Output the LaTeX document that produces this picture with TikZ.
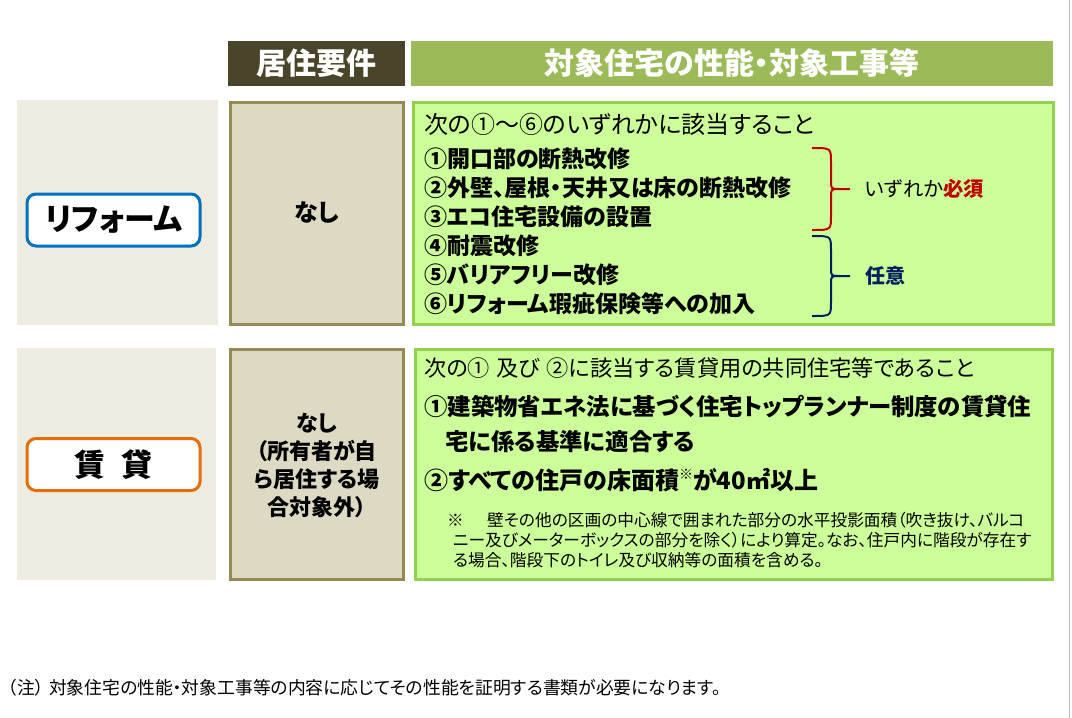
\documentclass[tikz,border=0pt]{standalone}
\usepackage{fontspec}
\setmainfont{Noto Sans CJK JP}[RawFeature=+palt]
\definecolor{hdrdark}{HTML}{4A452A}
\definecolor{hdrgreen}{HTML}{9BBB59}
\definecolor{panelbg}{HTML}{EEECE1}
\definecolor{midfill}{HTML}{DDD9C3}
\definecolor{midborder}{HTML}{948A54}
\definecolor{rightfill}{HTML}{CCFF99}
\definecolor{rightborder}{HTML}{92D050}
\definecolor{reformblue}{HTML}{0070C0}
\definecolor{rentorange}{HTML}{E46C0A}
\definecolor{mustred}{HTML}{C00000}
\definecolor{optnavy}{HTML}{002060}
\newcommand{\fs}[1]{\fontsize{#1}{#1}\selectfont}
\tikzset{
  hdrtext/.style={text=white, font=\bfseries\fs{30}, inner sep=0pt},
  labelbox/.style={fill=white, line width=3pt, rounded corners=9pt, minimum width=173pt, minimum height=52pt, font=\bfseries\fs{31}, inner sep=0pt},
  midbox/.style={fill=midfill, draw=midborder, line width=3pt},
  rightbox/.style={fill=rightfill, draw=rightborder, line width=3pt},
  midtext/.style={font=\bfseries\fs{23}, align=center, inner sep=0pt},
  lead/.style={anchor=west, inner sep=0pt, font=\fs{24}},
  item/.style={anchor=west, inner sep=0pt, font=\bfseries\fs{23}},
  bigitem/.style={anchor=west, inner sep=0pt, font=\bfseries\fs{23.4}},
  note/.style={anchor=west, inner sep=0pt, font=\fs{16.7}},
  brace/.style={line width=2pt}
}
\begin{document}
\begin{tikzpicture}[x=1pt,y=-1pt]
\useasboundingbox (0,0) rectangle (1072,718);
\fill[white] (0,0) rectangle (1072,718);
\draw[black!25, line width=1.5pt] (1069.5,0) -- (1069.5,718);
% headers
\fill[hdrdark] (228,41) rectangle (405,86);
\node[hdrtext] (h1) at (316.5,63.5) {居住要件};
\fill[hdrgreen] (411,41) rectangle (1053,86);
\node[hdrtext] (h2) at (732,63.5) {対象住宅の性能・対象工事等};
% row 1
\fill[panelbg] (17,100) rectangle (218,325);
\node[labelbox, draw=reformblue] (reform) at (113.5,220) {リフォーム};
\draw[midbox] (230,102) rectangle (403,324);
\node[midtext, font=\bfseries\fs{24}] (nashi1) at (316.5,212) {なし};
\draw[rightbox] (413,102) rectangle (1053,324);
\node[lead] (l1) at (424,124) {次の①～⑥のいずれかに該当すること};
\node[item] (i1) at (424,159) {①開口部の断熱改修};
\node[item] (i2) at (424,188) {②外壁、屋根・天井又は床の断熱改修};
\node[item] (i3) at (424,217) {③エコ住宅設備の設置};
\node[item] (i4) at (424,246) {④耐震改修};
\node[item] (i5) at (424,275) {⑤バリアフリー改修};
\node[item] (i6) at (424,304) {⑥リフォーム瑕疵保険等への加入};
\draw[brace, mustred] (812,148) .. controls (831,148) .. (831,162) -- (831,181)
  .. controls (831,189) .. (840,189) -- (850,189);
\draw[brace, mustred] (812,230) .. controls (831,230) .. (831,216) -- (831,197)
  .. controls (831,189) .. (840,189);
\node[anchor=west, inner sep=0pt, font=\fs{20.3}] (must) at (865,189) {いずれか{\bfseries\color{mustred}必須}};
\draw[brace, optnavy] (812,236) .. controls (831,236) .. (831,250) -- (831,268)
  .. controls (831,276) .. (840,276) -- (850,276);
\draw[brace, optnavy] (812,316) .. controls (831,316) .. (831,302) -- (831,284)
  .. controls (831,276) .. (840,276);
\node[anchor=west, inner sep=0pt, font=\bfseries\fs{20}, text=optnavy] (opt) at (865,276) {任意};
% row 2
\fill[panelbg] (17,348) rectangle (216,580);
\node[labelbox, draw=rentorange] (rent) at (113.5,464.5) {賃\hspace{0.5em}貸};
\draw[midbox] (230,349) rectangle (403,579);
\node[midtext, font=\bfseries\fs{22}] (nashi2) at (316.5,466) {なし\\[6pt]（所有者が自\\[6pt]ら居住する場\\[6pt]合対象外）};
\draw[rightbox] (415,349) rectangle (1052,579);
\node[lead, font=\fs{22.2}] (l2) at (424,368) {次の①\hspace{0.3em}及び\hspace{0.3em}②に該当する賃貸用の共同住宅等であること};
\node[bigitem] (j1) at (424,407) {①建築物省エネ法に基づく住宅トップランナー制度の賃貸住};
\node[bigitem] (j1b) at (445,442) {宅に係る基準に適合する};
\node[bigitem, font=\bfseries\fs{24}] (j2) at (424,480) {②すべての住戸の床面積\raisebox{0.4em}{\fs{14}※}が40㎡以上};
\node[note] (n0) at (447,520) {※};
\node[note] (n1) at (487,520) {壁その他の区画の中心線で囲まれた部分の水平投影面積（吹き抜け、バルコ};
\node[note] (n2) at (453,540) {ニー及びメーターボックスの部分を除く）により算定。なお、住戸内に階段が存在す};
\node[note] (n3) at (453,560) {る場合、階段下のトイレ及び収納等の面積を含める。};
% footer
\node[anchor=west, inner sep=0pt, font=\fs{17.8}] (foot) at (8,688) {（注）\hspace{0.3em}対象住宅の性能・対象工事等の内容に応じてその性能を証明する書類が必要になります。};
\end{tikzpicture}
\end{document}
